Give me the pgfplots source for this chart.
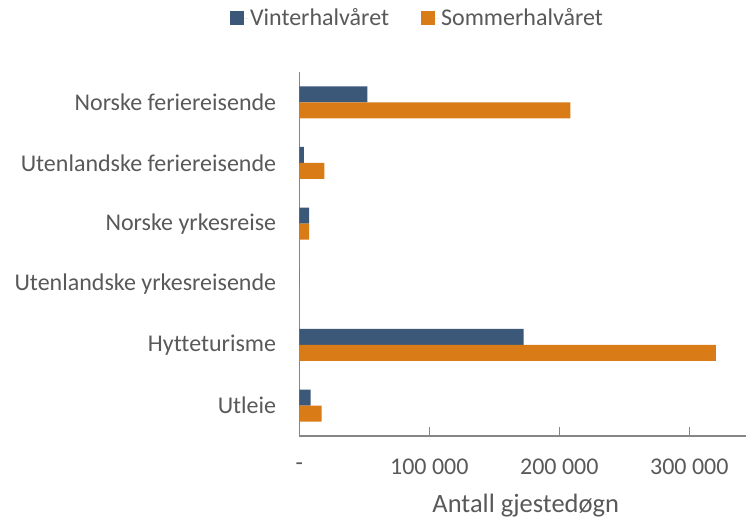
\documentclass[border=0pt]{standalone}
\usepackage{pgfplots}
\pgfplotsset{compat=1.18}
\usepackage{fontspec}
\setmainfont{Carlito}[Ligatures=NoCommon]
\definecolor{winter}{RGB}{59,88,120}
\definecolor{summer}{RGB}{217,124,23}
\definecolor{txt}{RGB}{89,89,89}
\definecolor{axl}{RGB}{134,134,134}
\begin{document}
\begin{tikzpicture}
\begin{axis}[
  name=ax,
  scale only axis,
  width=446.7bp, height=364bp,
  xbar, bar width=16bp,
  xmin=0, xmax=343600,
  ymin=-0.5, ymax=5.5,
  y dir=reverse,
  scaled x ticks=false,
  axis x line*=bottom, axis y line*=left,
  axis line style={draw=axl, line width=1.5bp},
  xtick={0,100000,200000,300000},
  xticklabels={-,100 000,200 000,300 000},
  ytick={0,1,2,3,4,5},
  yticklabels={Norske feriereisende,Utenlandske feriereisende,Norske yrkesreise,Utenlandske yrkesreisende,Hytteturisme,Utleie},
  major tick length=9bp,
  tick align=inside,
  xtick style={draw=axl, line width=1bp},
  ytick style={draw=none},
  /pgf/number format/assume math mode=true,
  tick label style={font=\fontsize{24bp}{28bp}\selectfont, text=txt},
  xticklabel style={anchor=center, yshift=-31bp},
  yticklabel style={anchor=east, inner sep=0pt, xshift=-23bp},
  xlabel={Antall gjestedøgn},
  xlabel style={font=\fontsize{26.5bp}{30bp}\selectfont, text=txt, at={(rel axis cs:0.507,0)}, anchor=center, yshift=-70bp},
  legend columns=2,
  legend style={draw=none, at={(rel axis cs:0.2646,1.148)}, anchor=center,
     font=\fontsize{24bp}{28bp}\selectfont, text=txt,
     /tikz/every even column/.append style={column sep=30bp}},
  legend image code/.code={\fill[#1] (0bp,-7bp) rectangle (14bp,7bp); \path (0bp,0bp) -- (18bp,0bp);},
]
\addplot[fill=winter, draw=none, bar shift=8bp] coordinates {
(52300,0) (3600,1) (7500,2) (0,3) (172600,4) (8700,5)};
\addplot[fill=summer, draw=none, bar shift=-8bp] coordinates {
(208500,0) (19200,1) (7500,2) (0,3) (320500,4) (17200,5)};
\legend{Vinterhalvåret,Sommerhalvåret}
\end{axis}
\pgfresetboundingbox
\path ([shift={(-299.3bp,-83bp)}]ax.south west) rectangle ([shift={(1bp,72bp)}]ax.north east);
\end{tikzpicture}
\end{document}
